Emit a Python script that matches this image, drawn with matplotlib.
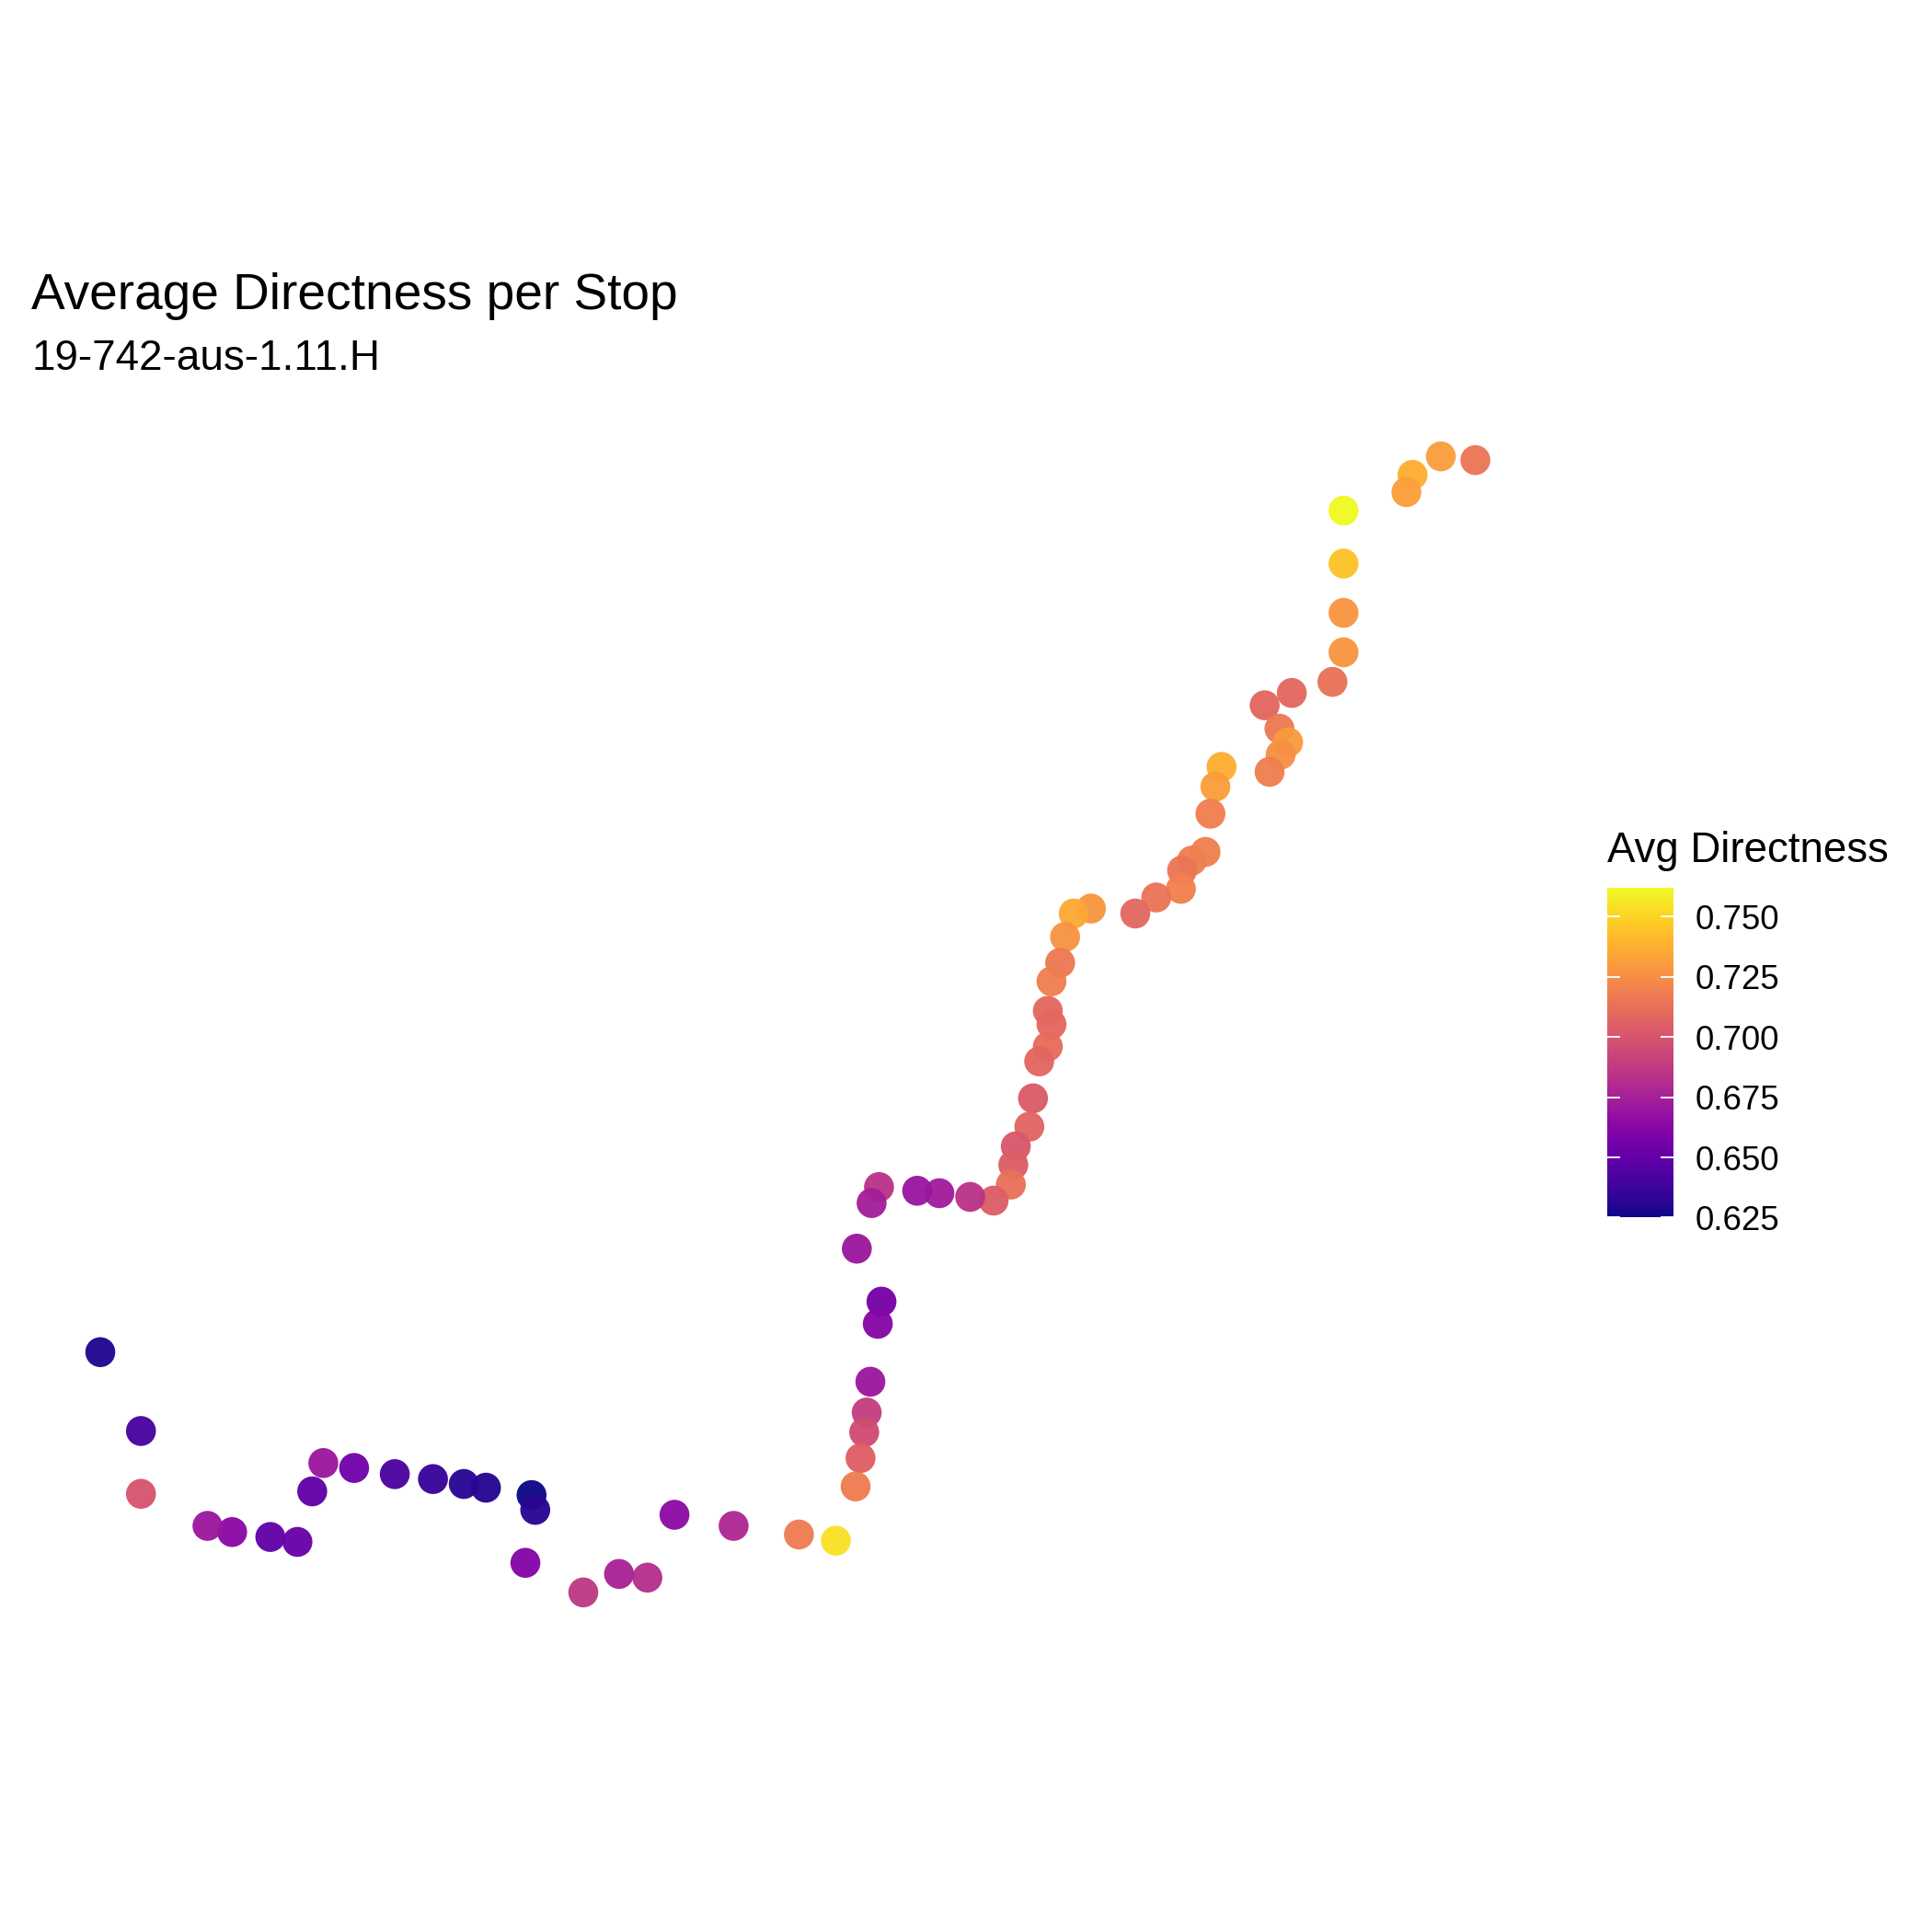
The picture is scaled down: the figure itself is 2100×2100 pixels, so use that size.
import numpy as np
import matplotlib
matplotlib.use("Agg")
import matplotlib.pyplot as plt
from matplotlib.colors import Normalize
from matplotlib.cm import ScalarMappable

plt.rcParams['font.family'] = ['Liberation Sans', 'DejaVu Sans']

TITLE = "Average Directness per Stop"
SUBTITLE = "19-742-aus-1.11.H"
LEGEND_TITLE = "Avg Directness"
legend_ticks = [0.625, 0.650, 0.675, 0.700, 0.725, 0.750]

stop_x = [81,114,114,168,188,219,241,253,262,287,320,351,376,394,434,431,426,473,502,525,547,595,648,678,
          694,698,701,703,706,712,715,695,707,713,744,762,787,806,820,822,824,835,838,843,850,853,850,853,
          860,864,871,885,921,938,958,959,967,978,982,986,991,1030,1039,1045,1038,1026,1048,1081,1090,1090,
          1090,1090,1141,1146,1169,1197]
stop_y = [1097,1161,1212,1238,1243,1247,1251,1210,1187,1191,1196,1200,1204,1207,1225,1213,1268,1292,1277,1280,1229,1238,1245,1250,
          1206,1183,1162,1146,1121,1074,1056,1013,976,963,966,968,971,974,961,945,930,914,891,861,849,831,820,796,
          781,760,741,737,741,728,721,706,698,691,660,638,622,626,612,602,591,572,562,553,529,497,
          457,414,399,385,370,373]
stop_directness = [.629,.641,.700,.671,.664,.650,.652,.649,.671,.655,.643,.636,.631,.630,.631,.625,.661,.687,.676,.682,.665,.678,.718,.754,
          .718,.705,.696,.689,.671,.662,.657,.671,.674,.684,.670,.673,.684,.704,.713,.704,.701,.707,.703,.708,.711,.709,.709,.719,
          .716,.727,.735,.728,.709,.714,.720,.715,.719,.719,.719,.731,.737,.719,.726,.730,.716,.708,.709,.713,.728,.728,
          .744,.762,.732,.737,.731,.715]

PX = 2100
fig = plt.figure(figsize=(7, 7), dpi=300, facecolor='white')
ax = fig.add_axes([0, 0, 1, 1])
ax.set_xlim(-0.4, 1567.6)
ax.set_ylim(1567.6, -0.4)
ax.axis('off')

lo, hi = min(stop_directness), max(stop_directness)
norm = Normalize(lo, hi)
ax.scatter(stop_x[::-1], stop_y[::-1], c=stop_directness[::-1], cmap='plasma', norm=norm,
           s=61, linewidths=0, alpha=0.96)

def fx(p): return p / PX
def fy(p): return 1 - p / PX

fig.text(fx(34), fy(336), TITLE, fontsize=13.2, va='baseline', ha='left', color='black')
fig.text(fx(35), fy(402), SUBTITLE, fontsize=11, va='baseline', ha='left', color='black')
fig.text(fx(1747), fy(937), LEGEND_TITLE, fontsize=10.95, va='baseline', ha='left', color='black')

cax = fig.add_axes([fx(1747), fy(1324), 72 / PX, 359 / PX])
cb = fig.colorbar(ScalarMappable(norm=norm, cmap='plasma'), cax=cax)
cb.outline.set_visible(False)
cb.set_ticks(legend_ticks)
cb.set_ticklabels([f"{t:.3f}" for t in legend_ticks])
cax.tick_params(axis='y', length=0, pad=5.7, labelsize=8.8, labelcolor='black')
cax.set_ylim(lo - 0.0002, hi)
for t in legend_ticks:
    cax.plot([0, 0.2], [t, t], color='white', lw=0.45, transform=cax.get_yaxis_transform(), solid_capstyle='butt')
    cax.plot([0.8, 1], [t, t], color='white', lw=0.45, transform=cax.get_yaxis_transform(), solid_capstyle='butt')

fig.savefig('out.png', dpi=300, facecolor='white')
